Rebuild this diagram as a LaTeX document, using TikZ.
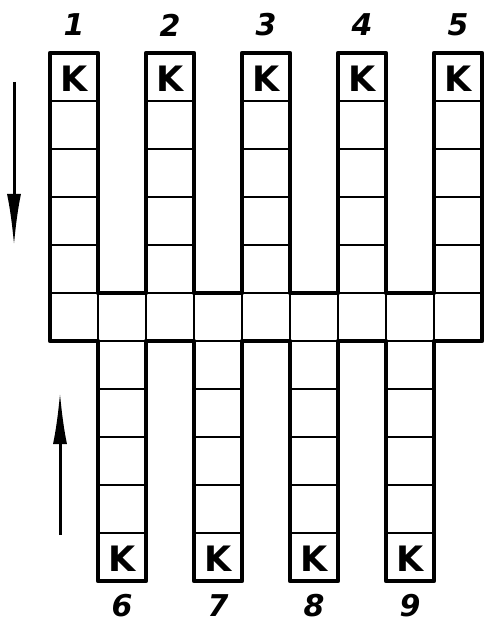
\documentclass[tikz,border=0pt]{standalone}
\usepackage{fontspec}
\setmainfont{DejaVu Sans}
\usetikzlibrary{arrows.meta}
\begin{document}
\begin{tikzpicture}[x=1pt,y=-1pt,
  thinline/.style={line width=1.8pt, line cap=round},
  outline/.style={line width=4.2pt, line join=round, line cap=round},
  klabel/.style={font=\fontsize{35}{35}\selectfont\bfseries, inner sep=0pt},
  numlabel/.style={font=\fontsize{30}{30}\selectfont\bfseries\itshape, inner sep=0pt},
  flowarrow/.style={line width=3pt, -{Latex[length=52pt,width=14pt]}}]
\useasboundingbox (0,0) rectangle (486,628);
% upper columns (cells 0,2,4,6,8)
\foreach \c/\n in {0/1,2/2,4/3,6/4,8/5}{
  \pgfmathsetmacro{\xa}{50+48*\c}
  \pgfmathsetmacro{\xb}{98+48*\c}
  \foreach \r in {1,2,3,4,5}{
    \draw[thinline] (\xa,{53+48*\r}) -- (\xb,{53+48*\r});
  }
  \node[klabel] (ku\n) at ({(\xa+\xb)/2},79) {K};
  \node[numlabel] (nu\n) at ({(\xa+\xb)/2},25) {\n};
}
% lower columns (cells 1,3,5,7)
\foreach \c/\n in {1/6,3/7,5/8,7/9}{
  \pgfmathsetmacro{\xa}{50+48*\c}
  \pgfmathsetmacro{\xb}{98+48*\c}
  \foreach \r in {0,1,2,3,4}{
    \draw[thinline] (\xa,{341+48*\r}) -- (\xb,{341+48*\r});
  }
  \node[klabel] (kl\n) at ({(\xa+\xb)/2},559) {K};
  \node[numlabel] (nl\n) at ({(\xa+\xb)/2},606) {\n};
}
% band interior vertical lines
\foreach \i in {1,...,8}{
  \draw[thinline] ({50+48*\i},293) -- ({50+48*\i},341);
}
% thick outline
\draw[outline] (50,53) -- (98,53) -- (98,293) -- (146,293) -- (146,53)
  -- (194,53) -- (194,293) -- (242,293) -- (242,53)
  -- (290,53) -- (290,293) -- (338,293) -- (338,53)
  -- (386,53) -- (386,293) -- (434,293) -- (434,53)
  -- (482,53) -- (482,341) -- (434,341) -- (434,581)
  -- (386,581) -- (386,341) -- (338,341) -- (338,581)
  -- (290,581) -- (290,341) -- (242,341) -- (242,581)
  -- (194,581) -- (194,341) -- (146,341) -- (146,581)
  -- (98,581) -- (98,341) -- (50,341) -- cycle;
% flow arrows
\coordinate (dstart) at (14,82);
\coordinate (dend) at (14,246);
\coordinate (ustart) at (60,535);
\coordinate (uend) at (60,392);
\draw[flowarrow] (dstart) -- (dend);
\draw[flowarrow] (ustart) -- (uend);
\end{tikzpicture}
\end{document}
